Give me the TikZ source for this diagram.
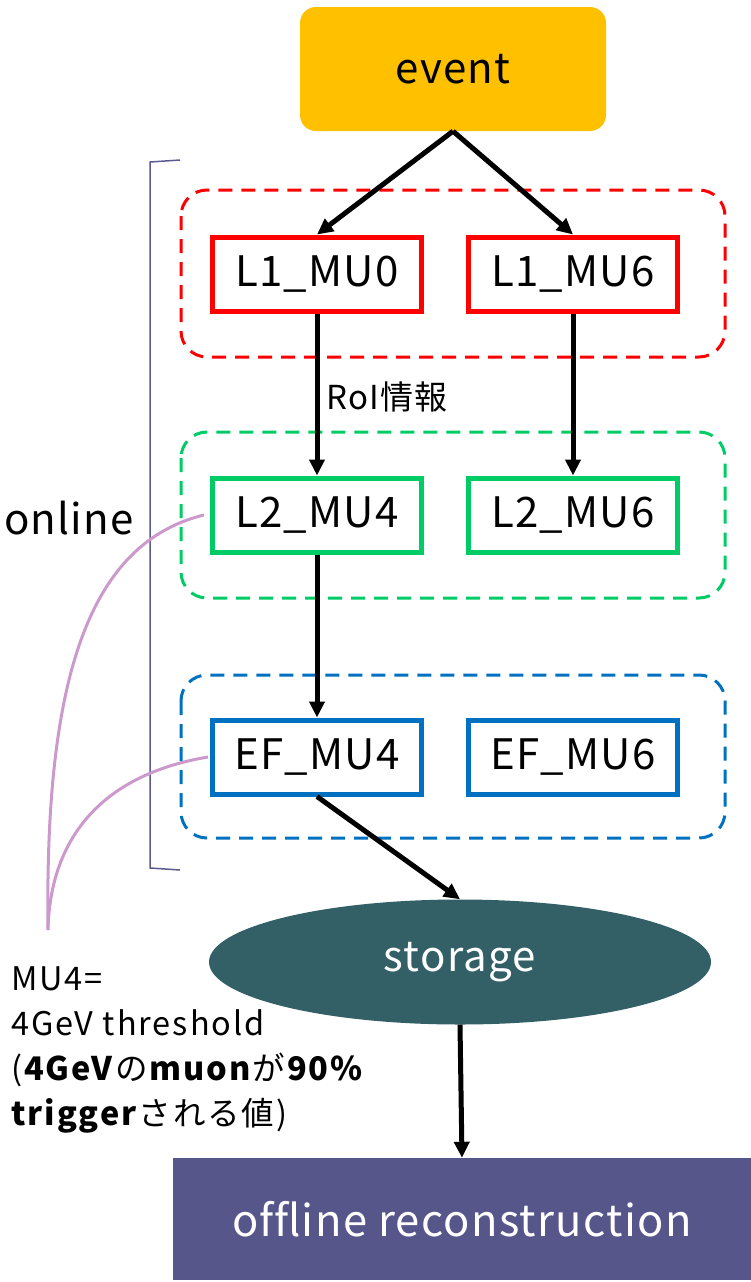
\documentclass[tikz,border=0pt]{standalone}
\usepackage{fontspec}
\setmainfont{Noto Sans CJK JP}[LetterSpace=3]
\newfontfamily\notefont{Noto Sans CJK JP}[LetterSpace=6]
\usetikzlibrary{arrows.meta,shapes.geometric}
\definecolor{evorange}{RGB}{255,192,0}
\definecolor{l1red}{RGB}{255,0,0}
\definecolor{l2green}{RGB}{0,204,102}
\definecolor{efblue}{RGB}{0,112,192}
\definecolor{stteal}{RGB}{51,96,102}
\definecolor{offpurple}{RGB}{86,86,139}
\definecolor{brk}{RGB}{90,90,145}
\definecolor{notecol}{RGB}{204,153,204}
\begin{document}
\begin{tikzpicture}[x=1pt,y=-1pt,
  lab/.style={font=\fontsize{42}{50}\selectfont},
  trig/.style={draw=#1, line width=5pt, fill=white, minimum width=209pt, minimum height=74pt, inner sep=0pt, lab},
  group/.style={draw=#1, line width=3pt, dash pattern=on 14pt off 9pt, rounded corners=26pt},
  flow/.style={line width=5pt, -{Triangle[length=16pt,width=15pt]}},
  note/.style={draw=notecol, line width=3pt}
]
\useasboundingbox (0,0) rectangle (751,1282);

% groups
\draw[group=l1red] (181,190) rectangle (725,357);
\draw[group=l2green] (181,432) rectangle (725,598);
\draw[group=efblue] (181,675) rectangle (725,838);

% bracket
\draw[brk, line width=1.5pt] (180,160) -- (150,162) -- (150,868) -- (180,870);
\node[lab, anchor=west, inner sep=0pt] (online) at (4,518) {online};

% event
\node[fill=evorange, rounded corners=16pt, minimum width=306pt, minimum height=124pt, lab] (ev) at (453,69) {\raisebox{-2pt}{event}};

% trigger boxes
\node[trig=l1red] (l1a) at (317,274) {L1\_MU0};
\node[trig=l1red] (l1b) at (573,274) {L1\_MU6};
\node[trig=l2green] (l2a) at (317,515) {L2\_MU4};
\node[trig=l2green] (l2b) at (573,515) {L2\_MU6};
\node[trig=efblue] (efa) at (317,757) {EF\_MU4};
\node[trig=efblue] (efb) at (573,757) {EF\_MU6};

% storage
\node[ellipse, fill=stteal, minimum width=502pt, minimum height=125pt, inner sep=0pt, text=white, lab] (st) at (460,962) {\raisebox{-6pt}{storage}};

% offline
\node[fill=offpurple, minimum width=578pt, minimum height=122pt, inner sep=0pt, text=white, font=\fontsize{43.5}{50}\selectfont] (off) at (462,1219) {of\kern0ptf\kern0ptline reconstruction};

% arrows
\draw[flow] (ev.south) -- (l1a.north);
\draw[flow] (ev.south) -- (l1b.north);
\draw[flow] (l1a.south) -- node[right, pos=0.5, font=\fontsize{33}{36}\selectfont, xshift=4pt, yshift=-2pt] (roi) {RoI情報} (l2a.north);
\draw[flow] (l1b.south) -- (l2b.north);
\draw[flow] (l2a.south) -- (efa.north);
\draw[flow] (efa.south) -- (st.north);
\draw[flow] (st.south) -- (off.north);

% note curves
\coordinate (tip) at (48,930);
\draw[note] ([xshift=-6pt]l2a.west) .. controls (80,545) and (45,700) .. (tip);
\draw[note] ([xshift=-2pt]efa.west) .. controls (100,775) and (50,840) .. (tip);

\node[anchor=north west, align=left, font=\notefont\fontsize{32.5}{45}\selectfont, inner sep=0pt] (mu) at (11,966)
 {MU4=\\4GeV threshold\\(\textbf{4GeV}の\textbf{muon}が\textbf{90\%}\\\textbf{trigger}される値)};
\end{tikzpicture}
\end{document}
